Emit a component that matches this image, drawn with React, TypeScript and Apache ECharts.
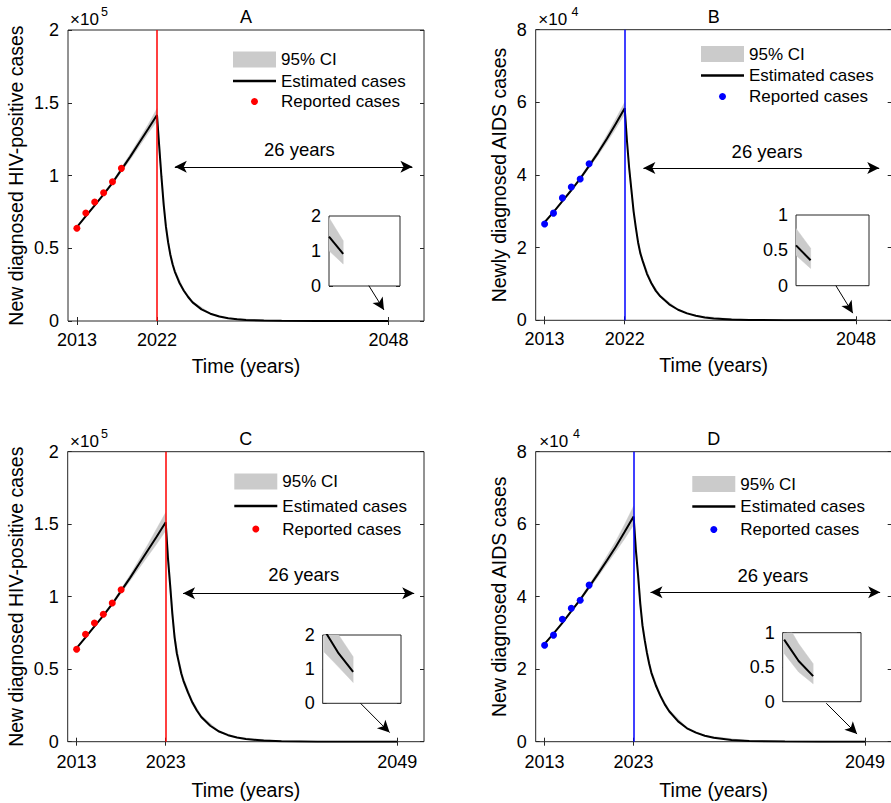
import React, { useEffect, useRef } from 'react';
import * as echarts from 'echarts';

// ---------------- data ----------------
const reportedYears = [2013, 2014, 2015, 2016, 2017, 2018];
const reportedA = [0.637, 0.742, 0.818, 0.882, 0.957, 1.049];
const reportedB = [2.65, 2.95, 3.37, 3.67, 3.89, 4.31];
const reportedC = [0.637, 0.741, 0.819, 0.879, 0.957, 1.048];
const reportedD = [2.66, 2.94, 3.38, 3.68, 3.9, 4.32];

const estYearsAB = [2013, 2014, 2015, 2016, 2017, 2018, 2019, 2020, 2021, 2022, 2022.25, 2022.5, 2022.75, 2023, 2023.25, 2023.5, 2023.75, 2024, 2024.5, 2025, 2025.5, 2026, 2027, 2028, 2029, 2030, 2031, 2032, 2034, 2036, 2040, 2044, 2047, 2048];
const estA = [0.645, 0.72, 0.795, 0.87, 0.95, 1.04, 1.13, 1.225, 1.32, 1.416, 1.2, 0.99, 0.8, 0.65, 0.54, 0.455, 0.39, 0.34, 0.265, 0.21, 0.165, 0.128, 0.08, 0.05, 0.031, 0.019, 0.012, 0.0075, 0.003, 0.0012, 0.0002, 0.00004, 0.0000141, 0.0000092];
const estB = [2.7, 2.98, 3.28, 3.58, 3.9, 4.25, 4.61, 5.0, 5.41, 5.84, 4.95, 4.2, 3.6, 3.0, 2.55, 2.15, 1.85, 1.65, 1.28, 1.02, 0.81, 0.66, 0.44, 0.29, 0.19, 0.125, 0.08, 0.052, 0.019, 0.0075, 0.0011, 0.0002, 0.000057, 0.000036];

const estYearsCD = [2013, 2014, 2015, 2016, 2017, 2018, 2019, 2020, 2021, 2022, 2023, 2023.25, 2023.5, 2023.75, 2024, 2024.25, 2024.5, 2024.75, 2025, 2025.5, 2026, 2026.5, 2027, 2028, 2029, 2030, 2031, 2032, 2034, 2036, 2040, 2044, 2047, 2048, 2049];
const estC = [0.645, 0.72, 0.795, 0.87, 0.95, 1.04, 1.13, 1.225, 1.32, 1.415, 1.513, 1.27, 1.08, 0.88, 0.72, 0.61, 0.54, 0.47, 0.42, 0.34, 0.27, 0.215, 0.17, 0.11, 0.07, 0.045, 0.029, 0.018, 0.0075, 0.003, 0.0005, 0.00008, 0.0000215, 0.0000146, 0.0000092];
const estD = [2.7, 2.98, 3.28, 3.6, 3.92, 4.27, 4.63, 5.0, 5.38, 5.79, 6.21, 5.3, 4.6, 3.8, 3.2, 2.8, 2.45, 2.15, 1.9, 1.55, 1.27, 1.03, 0.84, 0.56, 0.37, 0.25, 0.165, 0.11, 0.048, 0.02, 0.0035, 0.0006, 0.00009, 0.000059, 0.000037];

const bandYearsAB = [2013, 2015, 2017, 2019, 2020, 2021, 2022, 2022.5, 2023, 2023.5, 2024, 2025, 2026, 2028, 2030, 2035, 2048];
const bandLowA = [0.643, 0.79, 0.94, 1.11, 1.2, 1.29, 1.375, 0.96, 0.63, 0.44, 0.33, 0.2, 0.122, 0.047, 0.018, 0.0018, 0];
const bandUpA = [0.648, 0.8, 0.96, 1.15, 1.25, 1.35, 1.46, 1.02, 0.675, 0.475, 0.355, 0.22, 0.135, 0.053, 0.02, 0.0022, 0];
const bandLowB = [2.69, 3.26, 3.86, 4.54, 4.9, 5.28, 5.68, 4.08, 2.92, 2.09, 1.6, 0.98, 0.63, 0.275, 0.118, 0.011, 0];
const bandUpB = [2.71, 3.3, 3.94, 4.68, 5.1, 5.55, 6.0, 4.32, 3.08, 2.21, 1.7, 1.06, 0.69, 0.305, 0.132, 0.013, 0];

const bandYearsCD = [2013, 2015, 2017, 2019, 2020, 2021, 2022, 2023, 2023.5, 2024, 2024.5, 2025, 2026, 2027, 2029, 2031, 2036, 2049];
const bandLowC = [0.643, 0.79, 0.94, 1.11, 1.195, 1.28, 1.365, 1.455, 1.04, 0.69, 0.515, 0.4, 0.255, 0.16, 0.066, 0.027, 0.0028, 0];
const bandUpC = [0.648, 0.8, 0.96, 1.15, 1.255, 1.36, 1.47, 1.58, 1.13, 0.755, 0.565, 0.44, 0.285, 0.18, 0.074, 0.031, 0.0032, 0];
const bandLowD = [2.69, 3.26, 3.88, 4.55, 4.9, 5.25, 5.6, 5.98, 4.45, 3.1, 2.37, 1.84, 1.22, 0.8, 0.35, 0.157, 0.019, 0];
const bandUpD = [2.71, 3.3, 3.96, 4.71, 5.12, 5.53, 6.0, 6.5, 4.78, 3.32, 2.54, 1.97, 1.32, 0.88, 0.39, 0.173, 0.021, 0];

const insetYearsAB = [2047, 2048];
const insetA = [1.41, 0.92];
const insetLowA = [1.01, 0.63];
const insetUpA = [1.95, 1.29];
const insetB = [0.57, 0.36];
const insetLowB = [0.43, 0.245];
const insetUpB = [0.81, 0.53];
const insetYearsCD = [2047, 2048, 2049];
const insetC = [2.15, 1.46, 0.92];
const insetLowC = [1.5, 1.06, 0.61];
const insetUpC = [2.8, 2.0, 1.36];
const insetD = [0.9, 0.59, 0.37];
const insetLowD = [0.7, 0.43, 0.26];
const insetUpD = [1.2, 0.84, 0.55];

const xTicksAB = [2013, 2022, 2048];
const xTicksCD = [2013, 2023, 2049];

// ---------------- layout / style ----------------
const FONT = '"Liberation Sans", Arial, Helvetica, sans-serif';
const AXIS_COLOR = '#262626';
const TEXT_COLOR = '#000000';
const BAND_COLOR = '#cbcbcb';

type Box = { left: number; top: number; width: number; height: number };

interface Panel {
  title: string;
  color: string;
  grid: Box;
  inset: Box;
  yMax: number;
  yInterval: number;
  insetYMax: number;
  insetInterval: number;
  insetXMin: number;
  insetXMax: number;
  xTicks: number[];
  peak: number;
  yName: string;
  yNameGap: number;
  xNameGap: number;
  xLabelMargin: number;
  estYears: number[];
  est: number[];
  bandYears: number[];
  bandLow: number[];
  bandUp: number[];
  rep: number[];
  insetYears: number[];
  insetEst: number[];
  insetLow: number[];
  insetUp: number[];
  span: number[];
  spanLabel: number[];
  pointer: number[];
  legendLeft: number;
  legendTops: number[];
  titleY: number;
  expBase: number[];
  expSup: number[];
  exp: string;
}

const panels: Panel[] = [
  {
    title: 'A', color: '#ff0000',
    grid: { left: 68, top: 30, width: 356, height: 291 },
    inset: { left: 329, top: 216, width: 71, height: 70 },
    yMax: 2, yInterval: 0.5, insetYMax: 2, insetInterval: 1, insetXMin: 2047, insetXMax: 2052,
    xTicks: xTicksAB, peak: 2022,
    yName: 'New diagnosed HIV-positive cases', yNameGap: 42, xNameGap: 35, xLabelMargin: 10,
    estYears: estYearsAB, est: estA, bandYears: bandYearsAB, bandLow: bandLowA, bandUp: bandUpA,
    rep: reportedA, insetYears: insetYearsAB, insetEst: insetA, insetLow: insetLowA, insetUp: insetUpA,
    span: [2024.0, 1.06, 2050.7, 1.06], spanLabel: [2038.0, 1.18],
    pointer: [2045.8, 0.243, 2047.5, 0.076],
    legendLeft: 233, legendTops: [51, 72.5, 93], titleY: 17,
    expBase: [70, 19], expSup: [101, 12], exp: '5',
  },
  {
    title: 'B', color: '#0000ff',
    grid: { left: 535.7, top: 29.7, width: 356, height: 290.6 },
    inset: { left: 796, top: 215, width: 73, height: 70.7 },
    yMax: 8, yInterval: 2, insetYMax: 1, insetInterval: 0.5, insetXMin: 2047, insetXMax: 2052,
    xTicks: xTicksAB, peak: 2022,
    yName: 'Newly diagnosed AIDS cases', yNameGap: 27, xNameGap: 35, xLabelMargin: 10,
    estYears: estYearsAB, est: estB, bandYears: bandYearsAB, bandLow: bandLowB, bandUp: bandUpB,
    rep: reportedB, insetYears: insetYearsAB, insetEst: insetB, insetLow: insetLowB, insetUp: insetUpB,
    span: [2024.1, 4.19, 2050.6, 4.19], spanLabel: [2038.0, 4.66],
    pointer: [2045.73, 0.953, 2047.63, 0.196],
    legendLeft: 701, legendTops: [45.5, 67, 88], titleY: 17,
    expBase: [538.3, 19], expSup: [571.5, 12], exp: '4',
  },
  {
    title: 'C', color: '#ff0000',
    grid: { left: 67.7, top: 451.7, width: 356.3, height: 290 },
    inset: { left: 322.7, top: 635, width: 78.3, height: 68.3 },
    yMax: 2, yInterval: 0.5, insetYMax: 2, insetInterval: 1, insetXMin: 2046.9, insetXMax: 2052.3,
    xTicks: xTicksCD, peak: 2023,
    yName: 'New diagnosed HIV-positive cases', yNameGap: 42, xNameGap: 38, xLabelMargin: 11.5,
    estYears: estYearsCD, est: estC, bandYears: bandYearsCD, bandLow: bandLowC, bandUp: bandUpC,
    rep: reportedC, insetYears: insetYearsCD, insetEst: insetC, insetLow: insetLowC, insetUp: insetUpC,
    span: [2024.95, 1.023, 2050.9, 1.023], spanLabel: [2038.5, 1.15],
    pointer: [2044.87, 0.265, 2048.14, 0.063],
    legendLeft: 234.3, legendTops: [473, 497.5, 520.5], titleY: 438.5,
    expBase: [70, 441], expSup: [101, 434], exp: '5',
  },
  {
    title: 'D', color: '#0000ff',
    grid: { left: 535.7, top: 451.7, width: 356, height: 290 },
    inset: { left: 782.7, top: 632.7, width: 78.3, height: 69 },
    yMax: 8, yInterval: 2, insetYMax: 1, insetInterval: 0.5, insetXMin: 2046.9, insetXMax: 2052.3,
    xTicks: xTicksCD, peak: 2023,
    yName: 'New diagnosed AIDS cases', yNameGap: 27, xNameGap: 38, xLabelMargin: 11.5,
    estYears: estYearsCD, est: estD, bandYears: bandYearsCD, bandLow: bandLowD, bandUp: bandUpD,
    rep: reportedD, insetYears: insetYearsCD, insetEst: insetD, insetLow: insetLowD, insetUp: insetUpD,
    span: [2024.9, 4.12, 2050.7, 4.12], spanLabel: [2038.65, 4.58],
    pointer: [2044.65, 1.06, 2048.11, 0.21],
    legendLeft: 692.3, legendTops: [475.5, 498, 521], titleY: 438.5,
    expBase: [539.3, 441], expSup: [573, 434], exp: '4',
  },
];

const pairs = (xs: number[], ys: number[]) => xs.map((x, i) => [x, ys[i]]);

// CI band drawn as one polygon through the axes' scales (api.coord)
function bandSeries(name: string, years: number[], low: number[], up: number[], xIdx: number, yIdx: number, z: number) {
  const data = years.map((y, k) => [y, low[k], up[k]]);
  return {
    type: 'custom', name, xAxisIndex: xIdx, yAxisIndex: yIdx, data, silent: true, z, clip: true,
    itemStyle: { color: BAND_COLOR },
    encode: { x: 0, y: [1, 2] },
    renderItem: (params: any, api: any) => {
      if (params.dataIndex !== 0) return null;
      const top = data.map((d) => api.coord([d[0], d[2]]));
      const bottom = data.slice().reverse().map((d) => api.coord([d[0], d[1]]));
      const cs = params.coordSys;
      return {
        type: 'polygon',
        shape: { points: top.concat(bottom) },
        style: { fill: BAND_COLOR, stroke: BAND_COLOR, lineWidth: 0.5 },
        clipPath: { type: 'rect', shape: { x: cs.x, y: cs.y, width: cs.width, height: cs.height } },
      };
    },
  };
}

function buildOption() {
  const grid: any[] = [];
  const xAxis: any[] = [];
  const yAxis: any[] = [];
  const series: any[] = [];
  const legend: any[] = [];
  const graphic: any[] = [];

  const tickStyle = { show: true, inside: true, length: 4, lineStyle: { color: AXIS_COLOR, width: 1 } };
  const labelStyle = { fontSize: 18, fontFamily: FONT, color: TEXT_COLOR };

  panels.forEach((p, i) => {
    const gMain = grid.length;
    grid.push({ ...p.grid, show: true, borderColor: AXIS_COLOR, borderWidth: 1, backgroundColor: '#ffffff', containLabel: false, outerBoundsMode: 'none' });
    const gInset = grid.length;
    grid.push({ ...p.inset, show: true, borderColor: AXIS_COLOR, borderWidth: 1, backgroundColor: '#ffffff', containLabel: false, outerBoundsMode: 'none', z: 5 });

    const xMain = xAxis.length;
    xAxis.push({
      type: 'value', gridIndex: gMain, min: 2012, max: 2052, position: 'bottom',
      axisLine: { show: false }, splitLine: { show: false },
      axisTick: { ...tickStyle, customValues: p.xTicks },
      axisLabel: { ...labelStyle, margin: p.xLabelMargin, customValues: p.xTicks, formatter: (v: number) => String(v) },
      name: 'Time (years)', nameLocation: 'middle', nameGap: p.xNameGap,
      nameTextStyle: { fontSize: 19.5, fontFamily: FONT, color: TEXT_COLOR },
    });
    xAxis.push({
      type: 'value', gridIndex: gMain, min: 2012, max: 2052, position: 'top',
      axisLine: { show: false }, splitLine: { show: false },
      axisTick: { ...tickStyle, customValues: p.xTicks },
      axisLabel: { show: false },
    });
    const xInset = xAxis.length;
    xAxis.push({ type: 'value', gridIndex: gInset, min: p.insetXMin, max: p.insetXMax, show: false });

    const yMain = yAxis.length;
    yAxis.push({
      type: 'value', gridIndex: gMain, min: 0, max: p.yMax, interval: p.yInterval, position: 'left',
      axisLine: { show: false }, splitLine: { show: false },
      axisTick: tickStyle,
      axisLabel: { ...labelStyle, margin: 9 },
      name: p.yName, nameLocation: 'middle', nameGap: p.yNameGap,
      nameTextStyle: { fontSize: 19.5, fontFamily: FONT, color: TEXT_COLOR },
    });
    yAxis.push({
      type: 'value', gridIndex: gMain, min: 0, max: p.yMax, interval: p.yInterval, position: 'right',
      axisLine: { show: false }, splitLine: { show: false },
      axisTick: tickStyle, axisLabel: { show: false },
    });
    const yInset = yAxis.length;
    yAxis.push({
      type: 'value', gridIndex: gInset, min: 0, max: p.insetYMax, interval: p.insetInterval, position: 'left',
      axisLine: { show: false }, splitLine: { show: false },
      axisTick: tickStyle, axisLabel: { ...labelStyle, margin: 8 },
    });
    yAxis.push({
      type: 'value', gridIndex: gInset, min: 0, max: p.insetYMax, interval: p.insetInterval, position: 'right',
      axisLine: { show: false }, splitLine: { show: false },
      axisTick: tickStyle, axisLabel: { show: false },
    });

    const arrowLine = { color: '#000000', width: 1, type: 'solid' };

    // CI band (main)
    series.push(bandSeries('95% CI', p.bandYears, p.bandLow, p.bandUp, xMain, yMain, 2));
    // estimated line
    series.push({
      type: 'line', name: 'Estimated cases', xAxisIndex: xMain, yAxisIndex: yMain,
      data: pairs(p.estYears, p.est), symbol: 'none', silent: true,
      itemStyle: { color: '#000000' }, lineStyle: { color: '#000000', width: 2 }, z: 3,
      markLine: {
        silent: true, symbol: ['arrow', 'arrow'], symbolSize: [9, 12], label: { show: false },
        lineStyle: arrowLine,
        data: [[{ coord: [p.span[0], p.span[1]] }, { coord: [p.span[2], p.span[3]] }]],
      },
      markPoint: {
        silent: true, symbol: 'circle', symbolSize: 1, itemStyle: { color: 'rgba(0,0,0,0)' },
        label: { show: true, position: 'inside', formatter: '26 years', fontSize: 18.5, fontFamily: FONT, color: TEXT_COLOR },
        data: [{ coord: [p.spanLabel[0], p.spanLabel[1]] }],
      },
    });
    // reported cases
    series.push({
      type: 'scatter', name: 'Reported cases', xAxisIndex: xMain, yAxisIndex: yMain,
      data: pairs(reportedYears, p.rep), symbol: 'circle', symbolSize: 7, silent: true,
      itemStyle: { color: p.color, opacity: 1 }, z: 4,
      markLine: {
        silent: true, symbol: ['none', 'none'], label: { show: false },
        lineStyle: { color: p.color, width: 1.5, type: 'solid' },
        data: [{ xAxis: p.peak }],
      },
    });
    // pointer from inset to the end of the curve
    series.push({
      type: 'line', name: 'pointer-' + i, xAxisIndex: xMain, yAxisIndex: yMain,
      data: [], symbol: 'none', silent: true, z: 6,
      markLine: {
        silent: true, symbol: ['none', 'arrow'], symbolSize: [9, 12], label: { show: false },
        lineStyle: arrowLine,
        data: [[{ coord: [p.pointer[0], p.pointer[1]] }, { coord: [p.pointer[2], p.pointer[3]] }]],
      },
    });
    // inset
    series.push(bandSeries('ici-' + i, p.insetYears, p.insetLow, p.insetUp, xInset, yInset, 6));
    series.push({
      type: 'line', name: 'iest-' + i, xAxisIndex: xInset, yAxisIndex: yInset,
      data: pairs(p.insetYears, p.insetEst), symbol: 'none', silent: true,
      lineStyle: { color: '#000000', width: 2 }, z: 7,
    });

    // legends
    const legText = { fontSize: 17, fontFamily: FONT, color: TEXT_COLOR };
    legend.push({
      left: p.legendLeft, top: p.legendTops[0], padding: 0, itemWidth: 43, itemHeight: 16, selectedMode: false,
      textStyle: legText, data: [{ name: '95% CI', icon: 'rect', itemStyle: { color: BAND_COLOR, borderWidth: 0 } }],
    });
    legend.push({
      left: p.legendLeft, top: p.legendTops[1], padding: 0, itemWidth: 43, itemHeight: 2.5, selectedMode: false,
      textStyle: legText, data: [{ name: 'Estimated cases', icon: 'rect', itemStyle: { color: '#000000', borderWidth: 0 } }],
    });
    legend.push({
      left: p.legendLeft + 18, top: p.legendTops[2], padding: 0, itemWidth: 43, itemHeight: 7, selectedMode: false,
      textStyle: legText, data: [{ name: 'Reported cases', icon: 'circle', itemStyle: { color: p.color, borderWidth: 0, opacity: 1 } }],
    });

    // title and exponent
    graphic.push({
      type: 'text', x: p.grid.left + p.grid.width / 2, y: p.titleY,
      style: { text: p.title, fontSize: 18, fontFamily: FONT, fill: TEXT_COLOR, align: 'center', verticalAlign: 'middle' },
    });
    graphic.push({
      type: 'text', x: p.expBase[0], y: p.expBase[1],
      style: { text: '×10', fontSize: 17, fontFamily: FONT, fill: TEXT_COLOR, align: 'left', verticalAlign: 'middle' },
    });
    graphic.push({
      type: 'text', x: p.expSup[0], y: p.expSup[1],
      style: { text: p.exp, fontSize: 12.5, fontFamily: FONT, fill: TEXT_COLOR, align: 'left', verticalAlign: 'middle' },
    });
  });

  return {
    animation: false,
    backgroundColor: '#ffffff',
    textStyle: { fontFamily: FONT },
    grid, xAxis, yAxis, series, legend, graphic,
  };
}

export default function App() {
  const ref = useRef<HTMLDivElement>(null);
  useEffect(() => {
    if (!ref.current) return;
    const chart = echarts.init(ref.current, undefined, { renderer: 'svg' });
    chart.setOption(buildOption() as any);
    return () => chart.dispose();
  }, []);
  return (
    <div style={{ position: 'fixed', left: 0, top: 0, width: 891, height: 803, background: '#fff' }}>
      <div ref={ref} style={{ width: 891, height: 803 }} />
    </div>
  );
}
